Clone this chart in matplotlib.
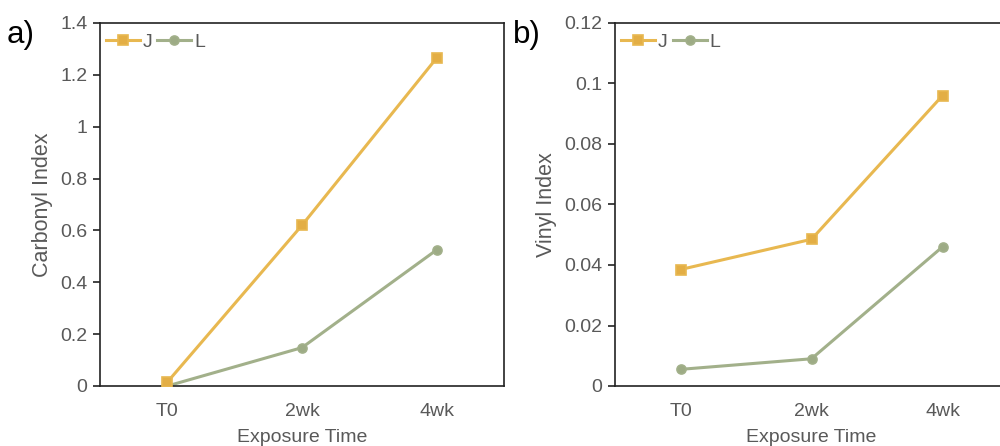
import matplotlib
matplotlib.use("Agg")
import matplotlib.pyplot as plt
from matplotlib.ticker import FixedLocator

plt.rcParams['font.family'] = ['Liberation Sans', 'DejaVu Sans']

categories = ["T0", "2wk", "4wk"]
carbonyl_J = [0.015, 0.62, 1.265]
carbonyl_L = [0.0, 0.148, 0.525]
vinyl_J = [0.0385, 0.0485, 0.096]
vinyl_L = [0.0055, 0.009, 0.046]

carbonyl_ticks = [0, 0.2, 0.4, 0.6, 0.8, 1, 1.2, 1.4]
carbonyl_ticklabels = ["0", "0.2", "0.4", "0.6", "0.8", "1", "1.2", "1.4"]
vinyl_ticks = [0, 0.02, 0.04, 0.06, 0.08, 0.1, 0.12]
vinyl_ticklabels = ["0", "0.02", "0.04", "0.06", "0.08", "0.1", "0.12"]

color_J = "#E8B850"
marker_J = "#E3AE45"
color_L = "#A2B08A"
marker_L = "#9DAB85"
text_gray = "#595959"

W, H = 1000, 446
fig = plt.figure(figsize=(W / 100, H / 100), dpi=100)


def make_axes(left, right, top=23, bottom=386):
    return fig.add_axes([left / W, 1 - bottom / H, (right - left) / W, (bottom - top) / H])


ax_a = make_axes(100, 504)
ax_b = make_axes(615, 1008)

panels = [
    (ax_a, carbonyl_J, carbonyl_L, carbonyl_ticks, carbonyl_ticklabels, "Carbonyl Index", "a)"),
    (ax_b, vinyl_J, vinyl_L, vinyl_ticks, vinyl_ticklabels, "Vinyl Index", "b)"),
]

x = [i + 0.5 for i in range(len(categories))]

for ax, yj, yl, ticks, ticklabels, ylabel, tag in panels:
    ax.plot(x, yj, color=color_J, lw=2.2, marker="s", ms=6.5, mfc=marker_J, mec=color_J,
            mew=1.2, label="J", zorder=3)
    ax.plot(x, yl, color=color_L, lw=2.2, marker="o", ms=6.5, mfc=marker_L, mec=color_L,
            mew=1.2, label="L", zorder=2)
    ax.set_xlim(0, len(categories))
    ax.set_ylim(ticks[0], ticks[-1])
    ax.xaxis.set_major_locator(FixedLocator(x))
    ax.set_xticklabels(categories)
    ax.yaxis.set_major_locator(FixedLocator(ticks))
    ax.set_yticklabels(ticklabels)
    ax.tick_params(axis="x", length=0, pad=12, labelsize=14, labelcolor=text_gray)
    ax.tick_params(axis="y", length=5, width=1.2, color="#222222", pad=4, labelsize=14,
                   labelcolor=text_gray, direction="out")
    for side in ["left", "bottom", "top", "right"]:
        ax.spines[side].set_color("#222222")
        ax.spines[side].set_linewidth(1.2)
    ax.set_xlabel("Exposure Time", fontsize=14, color=text_gray, labelpad=7)
    ax.set_ylabel(ylabel, fontsize=15.5, color=text_gray, labelpad=5)
    ax.legend(loc="upper left", bbox_to_anchor=(-0.012, 1.0), ncol=2, frameon=False,
              fontsize=14, labelcolor=text_gray,
              handlelength=1.75, handletextpad=0.15, columnspacing=0.25,
              borderaxespad=0.3, borderpad=0.25)

fig.text(7 / W, 1 - 35 / H, "a)", fontsize=22.5, color="black", va="center", ha="left")
fig.text(513 / W, 1 - 35 / H, "b)", fontsize=22.5, color="black", va="center", ha="left")

fig.savefig("out.png", dpi=100, facecolor="white")
